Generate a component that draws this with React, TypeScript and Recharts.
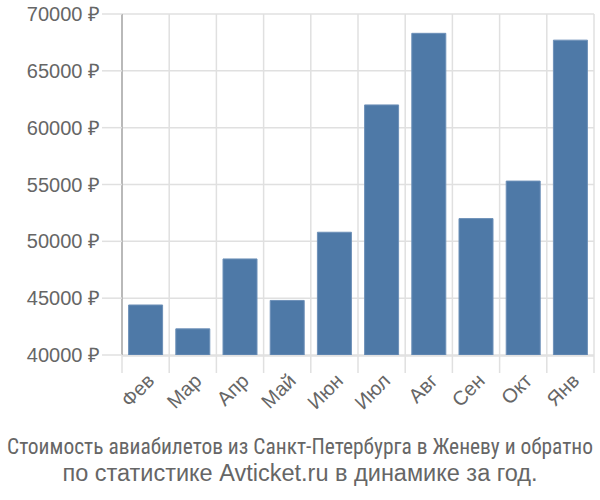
import React from "react";
import { BarChart, Bar, XAxis, YAxis, CartesianGrid } from "recharts";

const months = ["Фев", "Мар", "Апр", "Май", "Июн", "Июл", "Авг", "Сен", "Окт", "Янв"];
const prices = [44400, 42300, 48450, 44800, 50800, 62000, 68300, 52000, 55300, 67700];
const yTicks = [40000, 45000, 50000, 55000, 60000, 65000, 70000];
const boundaryTicks = [0, 1, 2, 3, 4, 5, 6, 7, 8, 9, 10];
const titleLines = [
  "Стоимость авиабилетов из Санкт-Петербурга в Женеву и обратно",
  "по статистике Avticket.ru в динамике за год.",
];

const data = months.map((m, i) => ({ month: m, price: prices[i], idx: i + 0.5 }));

const FONT = "'Liberation Sans', Arial, sans-serif";
const NARROW = "'Liberation Sans Narrow', 'Arial Narrow', 'Roboto Condensed', 'Liberation Sans', sans-serif";

const emptyTick = () => <g />;

export default function App() {
  return (
    <div style={{ position: "absolute", left: 0, top: 0, width: 600, height: 500, background: "#fff" }}>
      <BarChart
        width={600}
        height={500}
        data={data}
        margin={{ top: 14, right: 6, bottom: 0, left: 0 }}
        barCategoryGap="14%"
      >
        <CartesianGrid xAxisId="a" stroke="#e0e0e0" strokeWidth={1.5} />
        <XAxis
          xAxisId="a"
          type="number"
          dataKey="idx"
          domain={[0, 10]}
          ticks={boundaryTicks}
          interval={0}
          tick={emptyTick}
          tickSize={18}
          tickLine={{ stroke: "#e0e0e0", strokeWidth: 1.5 }}
          axisLine={false}
          height={1}
          allowDataOverflow
        />
        <XAxis
          xAxisId="b"
          dataKey="month"
          height={144}
          tickLine={false}
          axisLine={{ stroke: "#e0e0e0", strokeWidth: 1.5 }}
          interval={0}
          angle={-45}
          textAnchor="end"
          tickMargin={10}
          tick={{ fontSize: 20, fill: "#666", fontFamily: FONT }}
        />
        <YAxis
          width={122}
          domain={[40000, 70000]}
          ticks={yTicks}
          interval={0}
          tickSize={20}
          tickMargin={2}
          tickLine={{ stroke: "#e0e0e0", strokeWidth: 1.5 }}
          axisLine={{ stroke: "#aaaaaa", strokeWidth: 1.5 }}
          tickFormatter={(v: number) => `${v} ₽`}
          tick={{ fontSize: 20, fill: "#666", fontFamily: FONT }}
          allowDataOverflow
        />
        <Bar
          xAxisId="b"
          dataKey="price"
          fill="#4e79a7"
          stroke="#6d90b8"
          strokeWidth={1}
          isAnimationActive={false}
        />
      </BarChart>
      <svg
        width={600}
        height={70}
        style={{ position: "absolute", left: 0, top: 428 }}
      >
        <text
          x={300}
          y={26}
          textAnchor="middle"
          fontFamily={NARROW}
          fontSize={21.5}
          fill="#666"
          textLength={586}
          lengthAdjust="spacingAndGlyphs"
        >
          {titleLines[0]}
        </text>
        <text x={300} y={53} textAnchor="middle" fontFamily={FONT} fontSize={23.5} fill="#666">
          {titleLines[1]}
        </text>
      </svg>
    </div>
  );
}
